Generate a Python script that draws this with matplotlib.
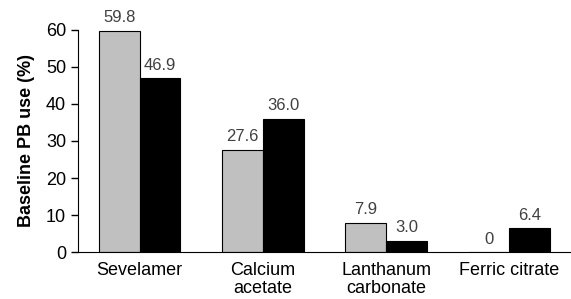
import matplotlib.pyplot as plt
import numpy as np

plt.rcParams['font.family'] = ['Liberation Sans', 'DejaVu Sans']

# Data
categories = ['Sevelamer', 'Calcium\nacetate', 'Lanthanum\ncarbonate', 'Ferric citrate']
gray_vals = [59.8, 27.6, 7.9, 0]
black_vals = [46.9, 36.0, 3.0, 6.4]
gray_labels = ['59.8', '27.6', '7.9', '0']
black_labels = ['46.9', '36.0', '3.0', '6.4']

fig = plt.figure(figsize=(5.71, 2.99), dpi=100)
ax = fig.add_axes([0.1366, 0.157, 0.8634, 0.743])

x = np.arange(len(categories))
w = 0.33
b1 = ax.bar(x - w / 2, gray_vals, w, color='#c0c0c0', edgecolor='black', linewidth=0.8)
b2 = ax.bar(x + w / 2, black_vals, w, color='black', edgecolor='black', linewidth=0.8)

for bars, labels in [(b1, gray_labels), (b2, black_labels)]:
    for bar, lab in zip(bars, labels):
        ax.annotate(lab, (bar.get_x() + bar.get_width() / 2, bar.get_height()),
                    xytext=(0, 4), textcoords='offset points',
                    ha='center', va='bottom', fontsize=12, color='#404040')

ax.set_xlim(-0.5, 3.5)
ax.set_ylim(0, 60)
ax.set_yticks(np.arange(0, 61, 10))
ax.set_xticks(x)
ax.set_xticklabels(categories, fontsize=13, linespacing=1.1)
ax.tick_params(axis='x', length=0, pad=7)
ax.tick_params(axis='y', labelsize=13, length=5, width=1)
ax.set_ylabel('Baseline PB use (%)', fontsize=13, fontweight='bold', labelpad=8)

ax.spines['top'].set_visible(False)
ax.spines['right'].set_visible(False)

plt.savefig('out.png', dpi=100)
